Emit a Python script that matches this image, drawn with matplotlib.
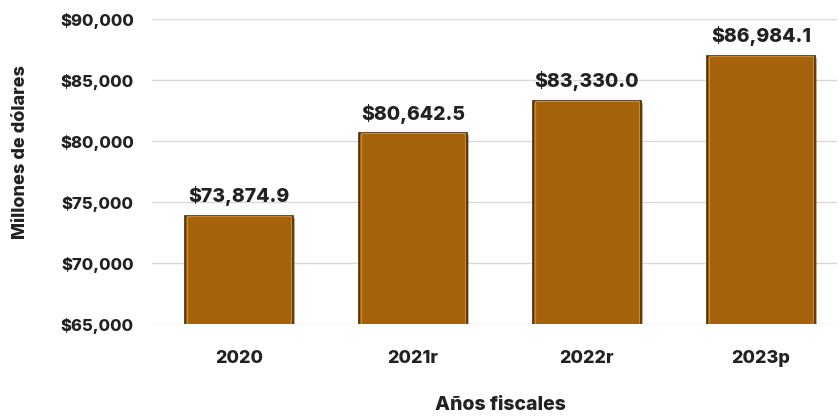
import matplotlib.pyplot as plt
import matplotlib.patheffects as pe

years = ['2020', '2021r', '2022r', '2023p']
values = [73874.9, 80642.5, 83330.0, 86984.1]
yticks = [65000, 70000, 75000, 80000, 85000, 90000]

plt.rcParams['font.family'] = ['Inter', 'DejaVu Sans']
ink = '#222222'

fig = plt.figure(figsize=(8.39, 4.17), dpi=100)
ax = fig.add_axes([0.181, 0.223, 0.817, 0.731])

x = range(len(years))
bars = ax.bar(x, values, width=0.62, color='#A5620A', edgecolor='#4a2a00',
              linewidth=1.2, zorder=3)
for b in bars:
    b.set_path_effects([pe.SimplePatchShadow(offset=(1.5, -1.5), alpha=0.35),
                        pe.Normal()])
# light inner rim, a nod to the bevel
ax.bar(x, [v - 65000 for v in values], bottom=65000, width=0.6, color='none',
       edgecolor='#c98a2e', linewidth=0.8, zorder=4)

for i, v in enumerate(values):
    ax.annotate('${:,.1f}'.format(v), (i, v), xytext=(0, 7), textcoords='offset points',
                ha='center', va='bottom', fontsize=14, fontweight='heavy', color=ink)

ax.set_ylim(65000, 90000)
ax.set_xlim(-0.5, 3.44)
ax.set_yticks(yticks)
ax.set_yticklabels(['${:,}'.format(t) for t in yticks])
ax.set_xticks(list(x))
ax.set_xticklabels(years)
ax.tick_params(axis='both', length=0, labelsize=12, colors=ink)
ax.tick_params(axis='y', pad=13)
ax.tick_params(axis='x', pad=19, labelsize=13)
for lab in ax.get_xticklabels() + ax.get_yticklabels():
    lab.set_fontweight('heavy')

ax.grid(axis='y', color='#d9d9d9', linewidth=1, zorder=0)
for s in ax.spines.values():
    s.set_visible(False)

fig.text(0.597, 0.029, 'Años fiscales', ha='center', va='center',
         fontsize=14, fontweight='heavy', color=ink)
fig.text(0.024, 0.635, 'Millones de dólares', rotation=90, ha='center', va='center',
         fontsize=13, fontweight='heavy', color=ink)

fig.savefig('out.png', dpi=100)
